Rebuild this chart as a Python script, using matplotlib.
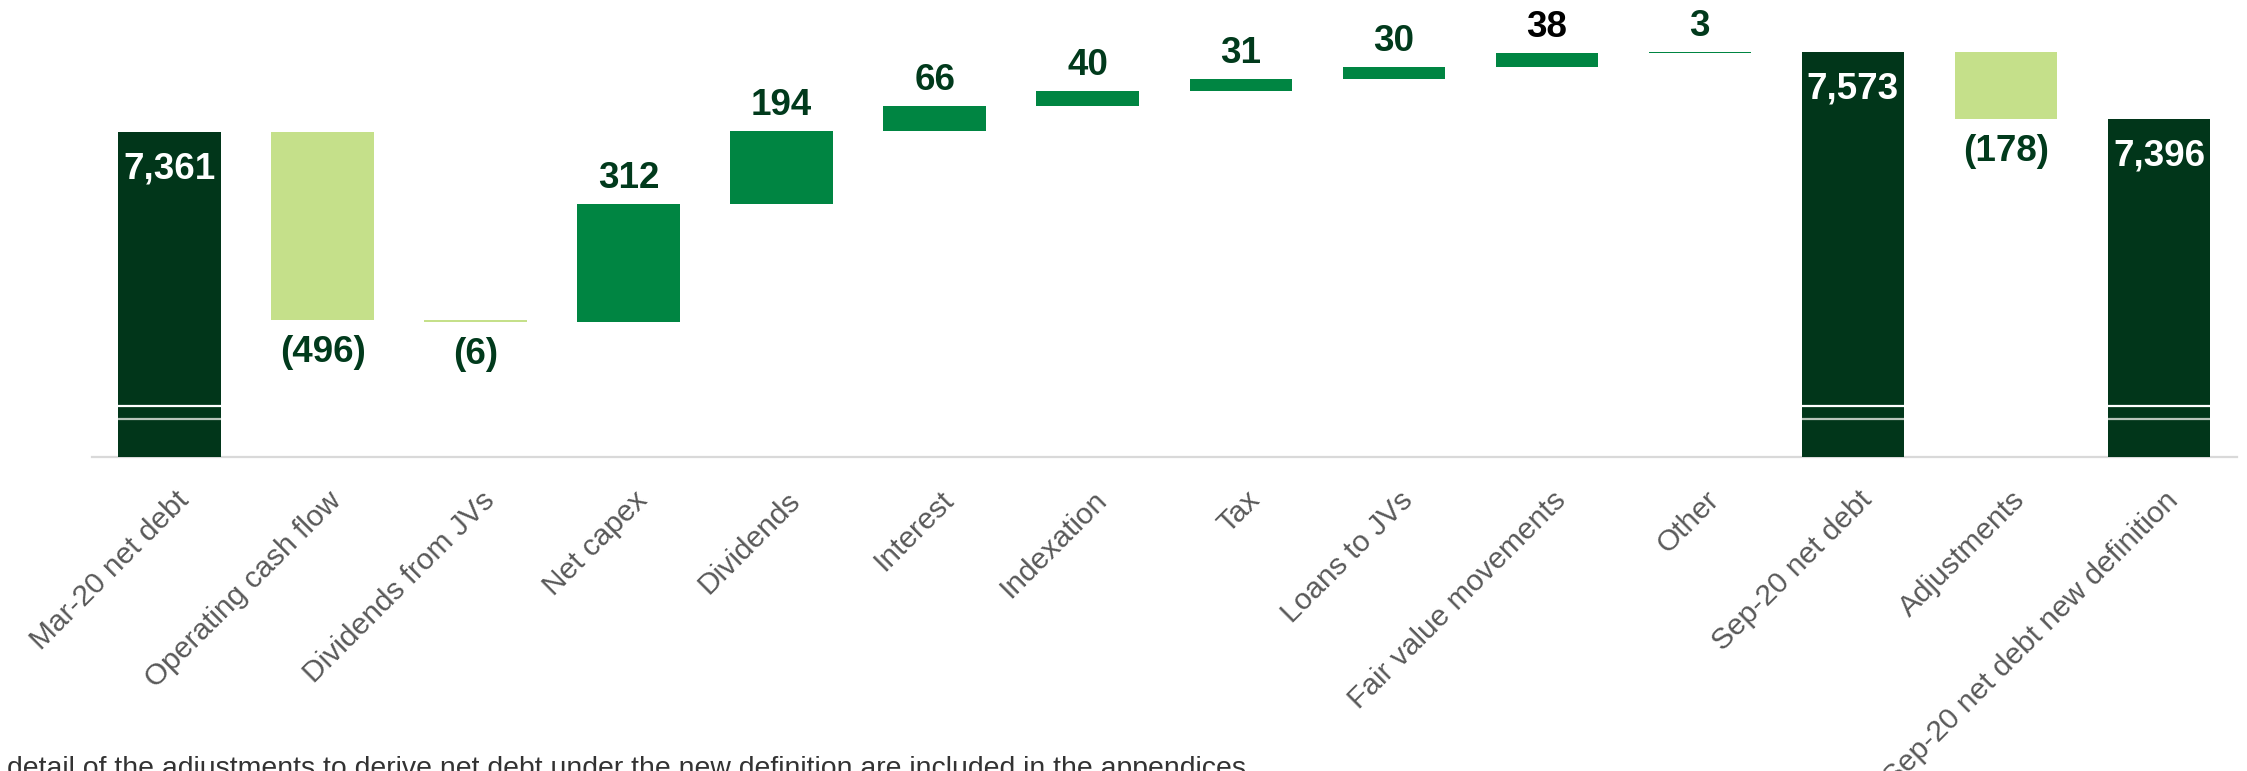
import matplotlib
matplotlib.use("Agg")
import matplotlib.pyplot as plt

# ---------------- data ----------------
categories = ["Mar-20 net debt", "Operating cash flow", "Dividends from JVs", "Net capex",
              "Dividends", "Interest", "Indexation", "Tax", "Loans to JVs",
              "Fair value movements", "Other", "Sep-20 net debt", "Adjustments",
              "Sep-20 net debt new definition"]
values = [7361, -496, -6, 312, 194, 66, 40, 31, 30, 38, 3, 7573, -178, 7396]
is_total = [True, False, False, False, False, False, False, False, False, False, False,
            True, False, True]
value_labels = ["7,361", "(496)", "(6)", "312", "194", "66", "40", "31", "30", "38", "3",
                "7,573", "(178)", "7,396"]
footnote = ("detail of the adjustments to derive net debt under the new definition "
            "are included in the appendices")

# ---------------- style ----------------
C_TOTAL = "#01361A"
C_POS = "#008542"
C_NEG = "#C5E08A"
C_LABEL = "#013A1C"
C_TICK = "#595959"
Y_MIN = 6504
FONT = ["Liberation Sans", "DejaVu Sans"]
plt.rcParams["font.family"] = FONT

W, H, DPI = 2247, 771, 100
fig = plt.figure(figsize=(W / DPI, H / DPI), dpi=DPI)
ax_left, ax_right = 92 / W, 2237 / W
ax_bottom = 1 - 457 / H
ax = fig.add_axes([ax_left, ax_bottom, ax_right - ax_left, 457 / H])
px_per_unit = 0.379
ax.set_ylim(Y_MIN, Y_MIN + 457 / px_per_unit)
ax.set_xlim(-0.507, len(categories) - 1 + 0.51)

bar_w = 0.67
running = 0
for i, (v, tot, lab) in enumerate(zip(values, is_total, value_labels)):
    if tot:
        bottom, height, color = Y_MIN, v - Y_MIN, C_TOTAL
        running = v
    else:
        bottom, height = running, v
        color = C_POS if v > 0 else C_NEG
        running = running + v
    ax.bar(i, height, bottom=bottom, width=bar_w, color=color, linewidth=0, zorder=2)
    top = max(bottom, bottom + height)
    low = min(bottom, bottom + height)
    if tot:
        ax.hlines([6638], i - bar_w / 2, i + bar_w / 2, colors="white", lw=1.6, zorder=3)
        ax.hlines([6603], i - bar_w / 2, i + bar_w / 2, colors="#B9C5BB", lw=1.6, zorder=3)
        ax.annotate(lab, xy=(i, top), xytext=(0, -14), textcoords="offset points",
                    ha="center", va="top", color="white", fontsize=26.5,
                    fontweight="bold", zorder=4)
    elif v > 0:
        ax.annotate(lab, xy=(i, top), xytext=(0, 11.5), textcoords="offset points",
                    ha="center", va="baseline",
                    color=("black" if lab == "38" else C_LABEL),
                    fontsize=26.5, fontweight="bold", zorder=4)
    else:
        ax.annotate(lab, xy=(i, low), xytext=(0, -10.5), textcoords="offset points",
                    ha="center", va="top", color=C_LABEL, fontsize=26.5,
                    fontweight="bold", zorder=4)

# axes styling
for s in ["top", "right", "left"]:
    ax.spines[s].set_visible(False)
ax.spines["bottom"].set_color("#D9D9D9")
ax.spines["bottom"].set_linewidth(1.6)
ax.spines["bottom"].set_zorder(1)
ax.set_yticks([])
ax.set_xticks([])

for i, cat in enumerate(categories):
    ax.annotate(cat, xy=(i, 0), xycoords=("data", "axes fraction"),
                xytext=(10.5, -28), textcoords="offset points",
                rotation=45, rotation_mode="anchor", ha="right", va="center",
                color=C_TICK, fontsize=21.5)

fig.text(7 / W, -5 / H, footnote, ha="left", va="baseline", fontsize=20.4,
         color="#333333")

fig.savefig("out.png", dpi=DPI)
